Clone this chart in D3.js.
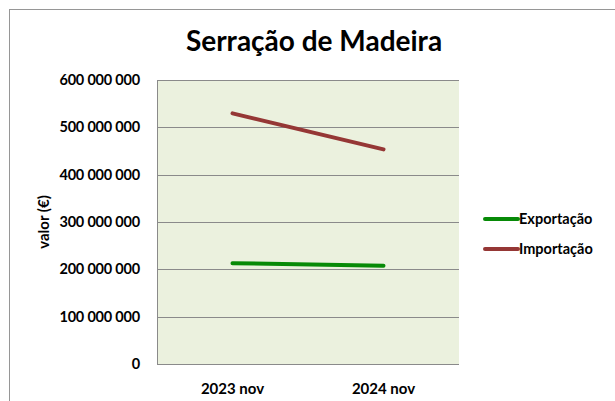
<!DOCTYPE html>
<html>
<head>
<meta charset="utf-8">
<script src="https://cdn.jsdelivr.net/npm/d3@7"></script>
<style>
  body { margin: 0; background: #fff; }
  text { font-family: Lato, "Open Sans", sans-serif; font-weight: bold; fill: #000; }
</style>
</head>
<body>
<div id="chart"></div>
<script>
const categories = ['2023 nov', '2024 nov'];
const exportacao = [213000000, 207500000];
const importacao = [529500000, 453500000];
const yTicks = [0, 100000000, 200000000, 300000000, 400000000, 500000000, 600000000];
const seriesNames = ['Exportação', 'Importação'];
const seriesColors = ['#078a07', '#953735'];

const width = 615;
const height = 401;
const plot = { left: 157, right: 459, top: 80, bottom: 364 };

const svg = d3.select('#chart')
  .append('svg')
  .attr('width', width)
  .attr('height', height);

// outer chart frame
svg.append('rect')
  .attr('x', 9.5).attr('y', 9.5)
  .attr('width', 620).attr('height', 410)
  .attr('fill', '#fff')
  .attr('stroke', '#969696');

const x = d3.scaleBand().domain(categories).range([plot.left, plot.right]).padding(0);
const y = d3.scaleLinear().domain([0, 600000000]).range([plot.bottom, plot.top]);

svg.append('rect')
  .attr('x', plot.left).attr('y', plot.top)
  .attr('width', plot.right - plot.left).attr('height', plot.bottom - plot.top)
  .attr('fill', '#ebf1de');

// grid
svg.append('g')
  .selectAll('line')
  .data(yTicks)
  .enter()
  .append('line')
  .attr('x1', plot.left).attr('x2', plot.right)
  .attr('y1', d => Math.round(y(d)) + 0.5)
  .attr('y2', d => Math.round(y(d)) + 0.5)
  .attr('stroke', '#8a8a8a')
  .attr('stroke-width', 1.2);

svg.append('line')
  .attr('x1', plot.left + 0.5).attr('x2', plot.left + 0.5)
  .attr('y1', plot.top).attr('y2', plot.bottom)
  .attr('stroke', '#8a8a8a');

const fmt = v => d3.format(',')(v).replace(/,/g, ' ');

const yAxis = d3.axisLeft(y).tickValues(yTicks).tickSize(0).tickPadding(17).tickFormat(fmt);
svg.append('g')
  .attr('transform', `translate(${plot.left},0)`)
  .call(yAxis)
  .call(g => g.select('.domain').remove())
  .selectAll('text')
  .style('font-size', '14.5px')
  .attr('letter-spacing', '-0.2px');

const xAxis = d3.axisBottom(x).tickSize(0).tickPadding(19);
svg.append('g')
  .attr('transform', `translate(0,${plot.bottom})`)
  .call(xAxis)
  .call(g => g.select('.domain').remove())
  .selectAll('text')
  .style('font-size', '15px');

svg.append('text')
  .attr('transform', `translate(49,222) rotate(-90)`)
  .attr('text-anchor', 'middle')
  .style('font-size', '15px')
  .text('valor (€)');

svg.append('text')
  .attr('x', 314).attr('y', 51)
  .attr('text-anchor', 'middle')
  .style('font-size', '28px')
  .text('Serração de Madeira');

const line = d3.line()
  .x((d, i) => x(categories[i]) + x.bandwidth() / 2)
  .y(d => y(d));

[exportacao, importacao].forEach((s, k) => {
  svg.append('path')
    .datum(s)
    .attr('d', line)
    .attr('fill', 'none')
    .attr('stroke', seriesColors[k])
    .attr('stroke-width', 4)
    .attr('stroke-linecap', 'round');
});

const legend = svg.append('g');
seriesNames.forEach((name, k) => {
  const ly = 219 + k * 30;
  legend.append('line')
    .attr('x1', 485).attr('x2', 518)
    .attr('y1', ly).attr('y2', ly)
    .attr('stroke', seriesColors[k])
    .attr('stroke-width', 4)
    .attr('stroke-linecap', 'round');
  legend.append('text')
    .attr('x', 519).attr('y', ly + 5)
    .style('font-size', '14.5px')
    .text(name);
});
</script>
</body>
</html>
